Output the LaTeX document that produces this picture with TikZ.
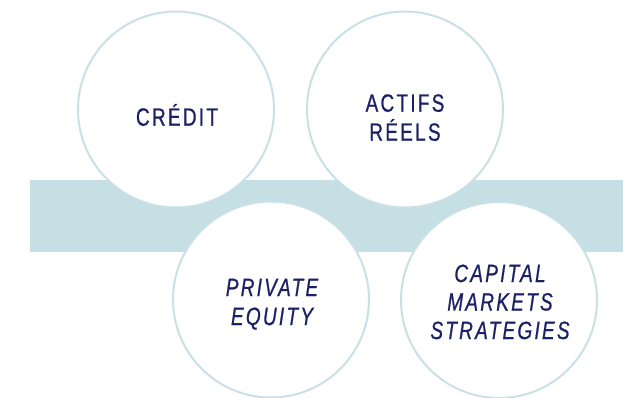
\documentclass[tikz,border=0pt]{standalone}
\usepackage{fontspec}
\setmainfont{Liberation Sans}[FakeStretch=0.76,LetterSpace=9,FakeBold=0.7]
\definecolor{band}{HTML}{C5DFE5}
\definecolor{ring}{HTML}{C8E0E6}
\definecolor{ink}{HTML}{1B2163}
\begin{document}
\begin{tikzpicture}[x=1bp,y=-1bp,
  pillar/.style={circle,draw=ring,line width=2bp,fill=white,minimum size=196bp,inner sep=0pt},
  caption/.style={anchor=base,text=ink,inner sep=0pt,font=\fontsize{25bp}{29bp}\selectfont},
  slanted/.style={caption,font=\fontsize{25bp}{29bp}\selectfont\itshape}]
\useasboundingbox (0,0) rectangle (623,397);
\clip (0,0) rectangle (623,397);
% horizontal band behind the four pillars
\fill[band] (30,180) rectangle (623,251.5);
% the four pillars
\node[pillar] (credit) at (176,109.5) {};
\node[pillar] (actifs) at (405,109.5) {};
\node[pillar] (pe) at (271,299.5) {};
\node[pillar] (cms) at (499,300) {};
% labels
\node[caption] (tcredit) at (177,125.7) {CRÉDIT};
\node[caption] (tact1) at (405,111.7) {ACTIFS};
\node[caption] (tact2) at (405,140.7) {RÉELS};
\node[slanted] (tpe1) at (272,296) {PRIVATE};
\node[slanted] (tpe2) at (272,325) {EQUITY};
\node[slanted] (tcms1) at (500,282) {CAPITAL};
\node[slanted] (tcms2) at (500,310.5) {MARKETS};
\node[slanted] (tcms3) at (500,339) {STRATEGIES};
\end{tikzpicture}
\end{document}
